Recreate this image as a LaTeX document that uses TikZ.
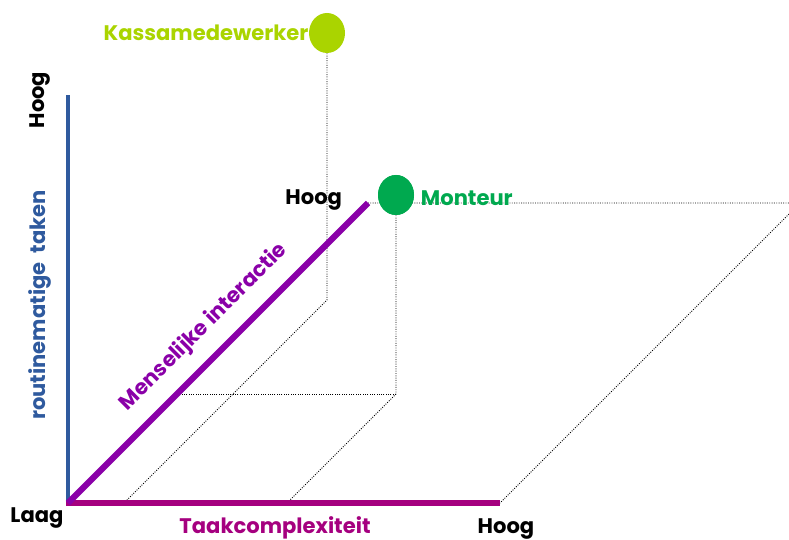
\documentclass[tikz,border=0pt]{standalone}
\usepackage{fontspec}
\setmainfont{Poppins}
\usetikzlibrary{shapes.geometric}
\definecolor{asblauw}{HTML}{2F5A9E}
\definecolor{asmagenta}{HTML}{A5007F}
\definecolor{aspaars}{HTML}{8A00A8}
\definecolor{kassagroen}{HTML}{AAD400}
\definecolor{monteurgroen}{HTML}{00A94F}

\begin{document}
\begin{tikzpicture}[x=1cm,y=1cm,every node/.style={font=\bfseries\fontsize{15}{18}\selectfont},
  hulplijn/.style={densely dotted,line width=0.65pt,black},
  stip/.style={ellipse,minimum width=0.9cm,minimum height=1cm,inner sep=0pt}]
\useasboundingbox (0,0) rectangle (19.725,13.475);
% hoekpunten
\coordinate (O) at (1.7,0.9);
\coordinate (ytop) at (1.7,11.1);
\coordinate (xend) at (12.5,0.9);
\coordinate (zend) at (9.2,8.4);
\coordinate (vlakrechts) at (20.0,8.4);
% functies
\node[stip,fill=kassagroen] (kassa) at (8.175,12.65) {};
\node[stip,fill=monteurgroen] (monteur) at (9.9,8.6) {};
\coordinate (kassavloer) at (8.175,5.975);
\coordinate (kassax) at (3.1,0.9);
\coordinate (monteurvloer) at (9.9,3.625);
\coordinate (monteurz) at (4.425,3.625);
\coordinate (monteurx) at (7.175,0.9);
% hulplijnen
\draw[hulplijn] (kassa.south) -- (kassavloer) -- (kassax);
\draw[hulplijn] (monteur.south) -- (monteurvloer) -- (monteurx);
\draw[hulplijn] (monteurvloer) -- (monteurz);
\begin{scope}
\clip (0,0) rectangle (19.725,13.475);
\draw[hulplijn] (zend) -- (vlakrechts) -- (xend);
\end{scope}
\node[stip,fill=monteurgroen] at (monteur) {};
% assen
\draw[asblauw,line width=3.5pt] (O) -- (ytop);
\draw[asmagenta,line width=4.5pt] (1.65,0.9) -- (xend);
\draw[aspaars,line width=4.5pt] (O) -- (zend);
% teksten
\node[rotate=90] (yhoog) at (1.0,10.975) {Hoog};
\node[rotate=90,text=asblauw] (ylabel) at (1.0,5.85) {routinematige~ taken};
\node (laag) at (0.925,0.525) {Laag};
\node[text=asmagenta] (xlabel) at (6.875,0.275) {Taakcomplexiteit};
\node (xhoog) at (12.65,0.25) {Hoog};
\node[anchor=east] (zhoog) at (8.675,8.475) {Hoog};
\node[rotate=45,text=aspaars] (zlabel) at (5.1,5.3) {Menselijke interactie};
\node[anchor=east,inner sep=0pt,text=kassagroen] (kassatekst) at (kassa.west) {Kassamedewerker};
\node[anchor=west,text=monteurgroen] (monteurtekst) at (10.4,8.525) {Monteur};
\end{tikzpicture}
\end{document}
